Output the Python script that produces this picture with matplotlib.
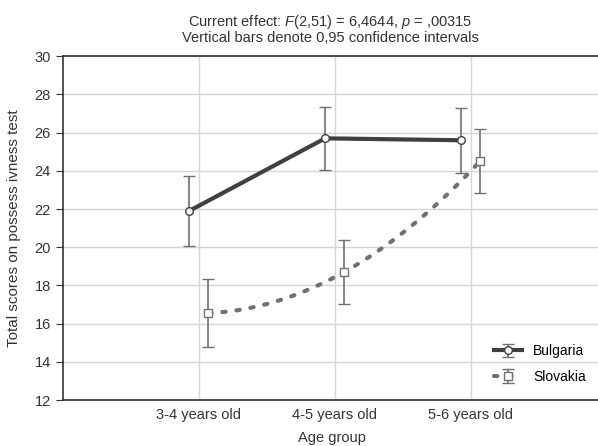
import matplotlib.pyplot as plt
import numpy as np

plt.rcParams['font.family'] = ['Liberation Sans', 'DejaVu Sans']
plt.rcParams['mathtext.fontset'] = 'custom'
plt.rcParams['mathtext.it'] = 'Liberation Sans:italic'
plt.rcParams['mathtext.rm'] = 'Liberation Sans'

age_groups = ["3-4 years old", "4-5 years old", "5-6 years old"]
bulgaria = [21.9, 25.7, 25.6]
bulgaria_ci = [1.85, 1.65, 1.7]
slovakia = [16.55, 18.7, 24.5]
slovakia_ci = [1.78, 1.67, 1.67]
y_ticks = list(range(12, 31, 2))

fig = plt.figure(figsize=(5.98, 4.46), dpi=100)
ax = fig.add_axes([0.105, 0.103, 0.9, 0.771])

x = np.arange(1, len(age_groups) + 1)
xb = x - 0.07
xs = x + 0.07

# Bulgaria: solid dark line
ln1, = ax.plot(xb, bulgaria, color='#404040', lw=3, zorder=3)
eb1 = ax.errorbar(xb, bulgaria, yerr=bulgaria_ci, fmt='o', color='#404040',
                  ms=5.5, mfc='white', mec='#404040', mew=1,
                  ecolor='#707070', elinewidth=1.2, capsize=4.5, capthick=1.2,
                  zorder=4)

# Slovakia: smooth dotted curve through the means
coef = np.polyfit(xs, slovakia, 2)
xc = np.linspace(xs[0], xs[-1], 100)
ln2, = ax.plot(xc, np.polyval(coef, xc), color='#707070', lw=3,
               ls=(0, (0.8, 2.6)), dash_capstyle='round', zorder=3)
eb2 = ax.errorbar(xs, slovakia, yerr=slovakia_ci, fmt='s', color='#707070',
                  ms=5.5, mfc='white', mec='#707070', mew=1,
                  ecolor='#707070', elinewidth=1.2, capsize=4.5, capthick=1.2,
                  zorder=4)

ax.set_xlim(0, 3.96)
ax.set_ylim(12, 30)
ax.set_xticks(x)
ax.set_xticklabels(age_groups)
ax.set_yticks(y_ticks)
ax.grid(True, color='#d4d4d4', lw=1)
ax.set_axisbelow(True)
ax.tick_params(axis='x', length=0, labelsize=10.5, colors='#333333', pad=6)
ax.tick_params(axis='y', length=5, labelsize=10.5, colors='#333333', width=0.8)
for s in ['left', 'bottom', 'top']:
    ax.spines[s].set_color('#333333')
    ax.spines[s].set_linewidth(1.2)
ax.spines['right'].set_visible(False)

ax.set_xlabel("Age group", fontsize=10.5, color='#333333', labelpad=6)
ax.set_ylabel("Total scores on possess ivness test", fontsize=11,
              color='#333333', labelpad=10)
ax.set_title("Current effect: $F$(2,51) = 6,4644, $p$ = ,00315\n"
             "Vertical bars denote 0,95 confidence intervals",
             fontsize=10.5, color='#333333', pad=10, x=0.497, linespacing=1.05)

ax.legend([(ln1, eb1), (ln2, eb2)], ["Bulgaria", "Slovakia"],
          loc='lower right', bbox_to_anchor=(0.995, 0.01), frameon=False,
          fontsize=10, handlelength=2.0, labelspacing=0.85)

fig.savefig("out.png", dpi=100)
